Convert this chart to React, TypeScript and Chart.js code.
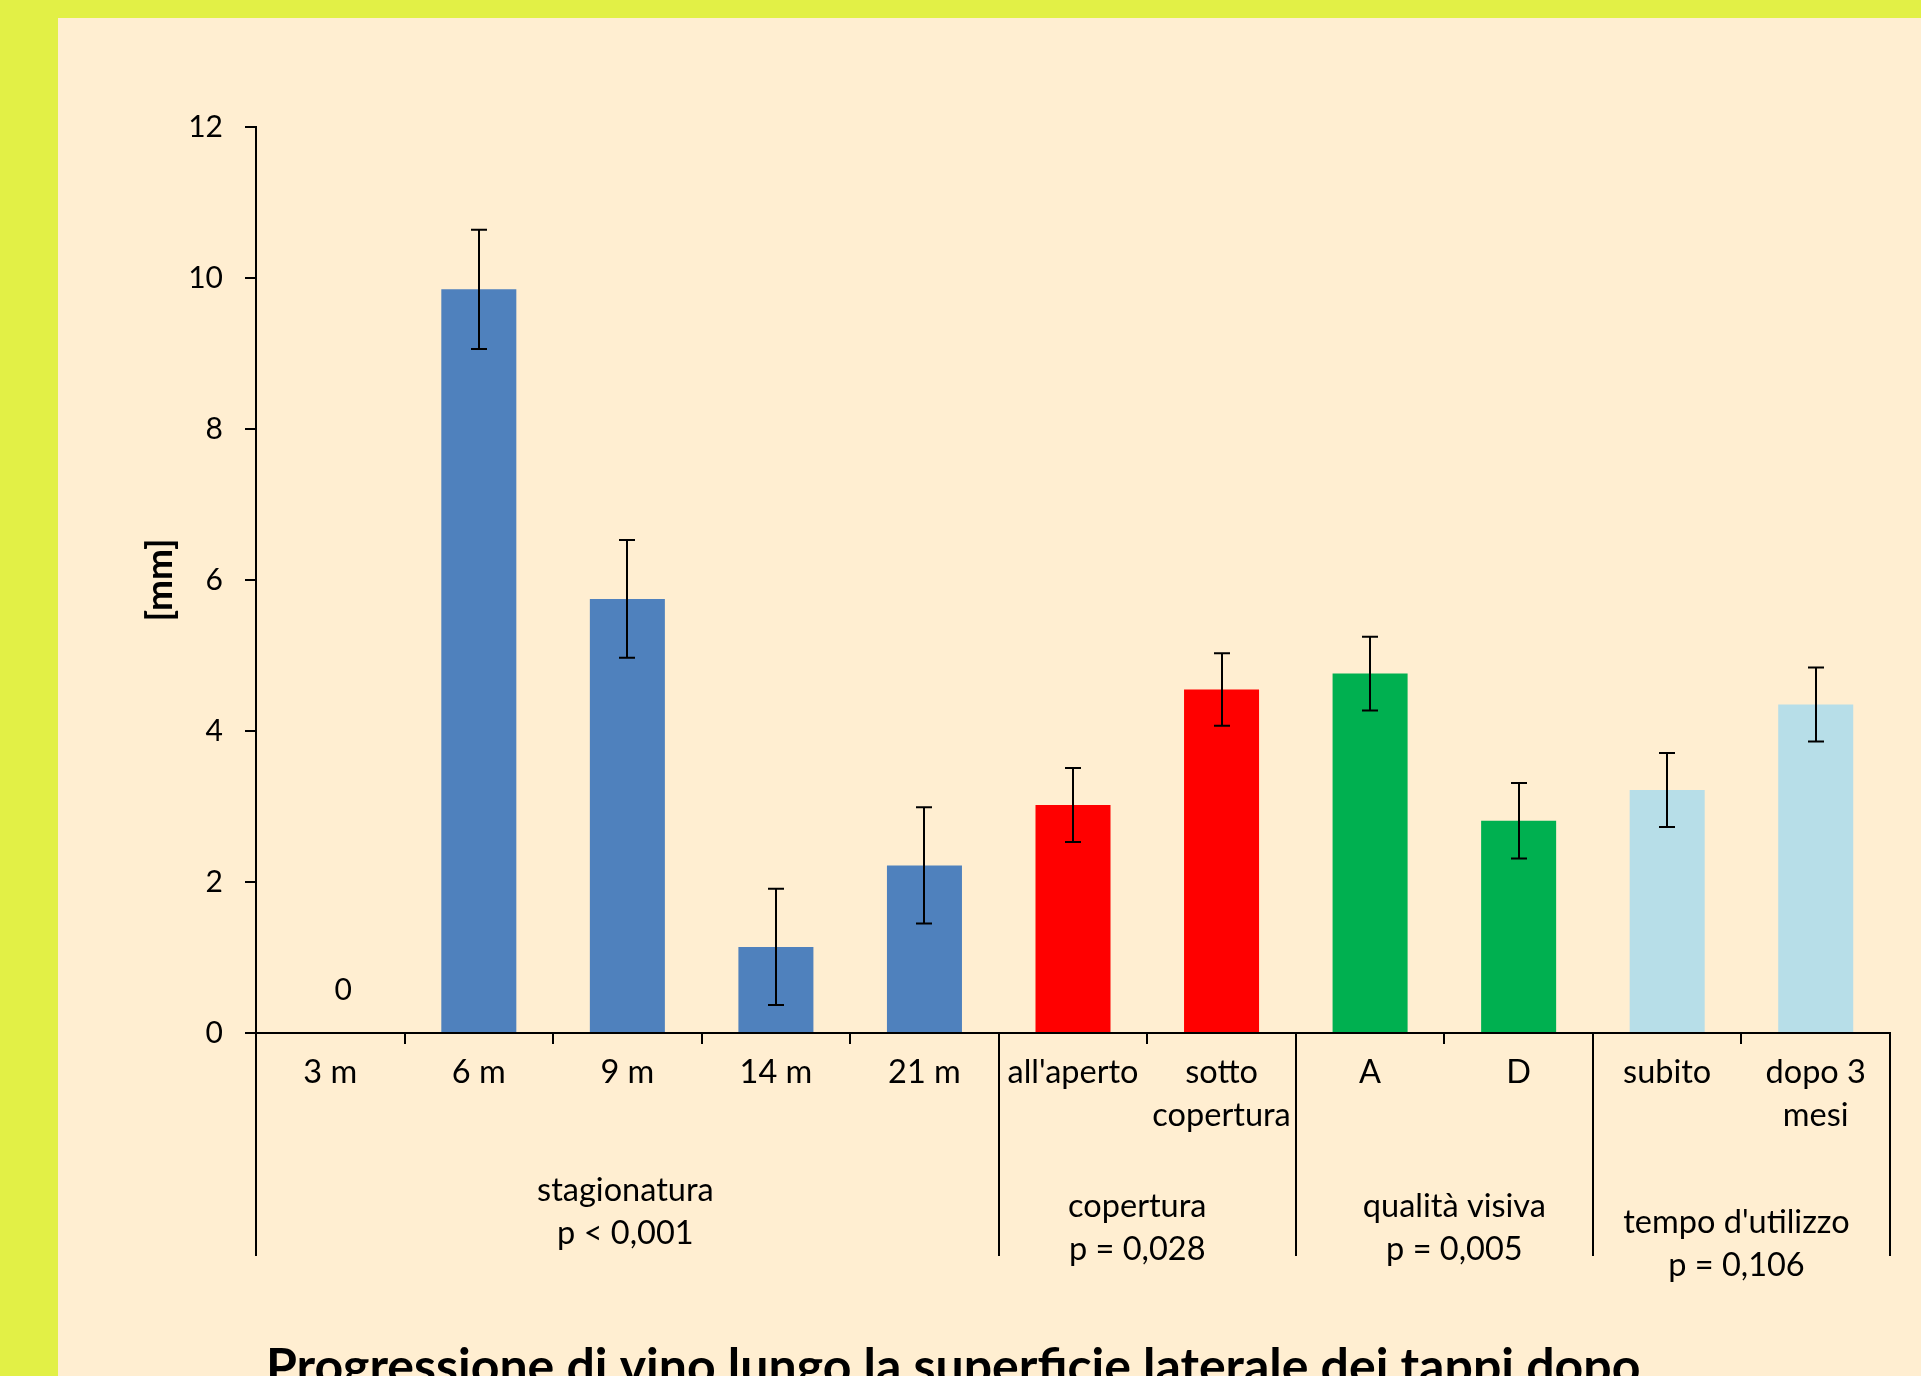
import { useEffect, useRef } from 'react';
import { Chart, registerables } from 'chart.js';

Chart.register(...registerables);

// ---- data ----
const categories: (string | string[])[] = [
  '3 m', '6 m', '9 m', '14 m', '21 m',
  "all'aperto", ['sotto', 'copertura'],
  'A', 'D',
  'subito', ['dopo 3', 'mesi'],
];
const values = [0, 9.85, 5.75, 1.14, 2.22, 3.02, 4.55, 4.76, 2.81, 3.22, 4.35];
const errors = [0, 0.79, 0.78, 0.77, 0.77, 0.49, 0.48, 0.49, 0.5, 0.49, 0.49];
const barColors = [
  '#4F81BD', '#4F81BD', '#4F81BD', '#4F81BD', '#4F81BD',
  '#FF0000', '#FF0000',
  '#00B050', '#00B050',
  '#B7DEE8', '#B7DEE8',
];
const yTicks = [0, 2, 4, 6, 8, 10, 12];
const groupNames = ['stagionatura', 'copertura', 'qualità visiva', "tempo d'utilizzo"];
const groupPValues = ['p < 0,001', 'p = 0,028', 'p = 0,005', 'p = 0,106'];
const groupSizes = [5, 2, 2, 2];
const yAxisTitle = '[mm]';
const chartTitle = 'Progressione di vino lungo la superficie laterale dei tappi dopo';

// ---- styles ----
const FONT = 'Lato, "Noto Sans", sans-serif';
const GROUP_LABEL_OFFSETS = [158, 174, 174, 190];
const GROUP_LABEL_SHIFT_X = [-2, -10, 10, -5];
const GROUP_LINE_GAP = 43;
const SEPARATOR_DEPTH = 223;

const overlayPlugin = {
  id: 'overlay',
  afterDraw(chart: any) {
    const { ctx } = chart;
    const xs = chart.scales.x;
    const ys = chart.scales.y;
    const meta = chart.getDatasetMeta(0);
    const n = categories.length;
    const catW = xs.width / n;
    const axisY = ys.getPixelForValue(0);

    ctx.save();
    // error bars
    ctx.strokeStyle = '#000';
    ctx.lineWidth = 2;
    meta.data.forEach((bar: any, i: number) => {
      const e = errors[i];
      if (!e) return;
      const x = Math.round(bar.x);
      const yTop = ys.getPixelForValue(values[i] + e);
      const yBot = ys.getPixelForValue(values[i] - e);
      ctx.beginPath();
      ctx.moveTo(x, yTop);
      ctx.lineTo(x, yBot);
      ctx.moveTo(x - 8, yTop);
      ctx.lineTo(x + 8, yTop);
      ctx.moveTo(x - 8, yBot);
      ctx.lineTo(x + 8, yBot);
      ctx.stroke();
    });

    // zero data label
    ctx.fillStyle = '#000';
    ctx.font = `30px ${FONT}`;
    ctx.textAlign = 'center';
    ctx.textBaseline = 'alphabetic';
    meta.data.forEach((bar: any, i: number) => {
      if (values[i] === 0) ctx.fillText('0', bar.x + 13, axisY - 33);
    });

    // group separators
    let idx = 0;
    const bounds = [0];
    groupSizes.forEach((s) => {
      idx += s;
      bounds.push(idx);
    });
    ctx.beginPath();
    bounds.forEach((b) => {
      const x = Math.round(xs.left + b * catW);
      ctx.moveTo(x, axisY);
      ctx.lineTo(x, axisY + SEPARATOR_DEPTH);
    });
    ctx.stroke();

    // group labels
    ctx.font = `32.5px ${FONT}`;
    ctx.textBaseline = 'middle';
    groupSizes.forEach((s, g) => {
      const cx = xs.left + ((bounds[g] + bounds[g + 1]) / 2) * catW + GROUP_LABEL_SHIFT_X[g];
      const y0 = axisY + GROUP_LABEL_OFFSETS[g];
      ctx.fillText(groupNames[g], cx, y0);
      ctx.fillText(groupPValues[g], cx, y0 + GROUP_LINE_GAP);
    });

    // y axis title
    ctx.save();
    ctx.translate(160, (ys.top + ys.bottom) / 2);
    ctx.rotate(-Math.PI / 2);
    ctx.font = `bold 37px ${FONT}`;
    ctx.textAlign = 'center';
    ctx.textBaseline = 'middle';
    ctx.fillText(yAxisTitle, 0, 0);
    ctx.restore();

    // chart title (cut by the bottom edge)
    ctx.font = `bold 50px ${FONT}`;
    ctx.textAlign = 'left';
    ctx.textBaseline = 'alphabetic';
    ctx.fillText(chartTitle, 266, 1384);

    ctx.restore();
  },
};

export default function App() {
  const canvasRef = useRef<HTMLCanvasElement | null>(null);

  useEffect(() => {
    const canvas = canvasRef.current;
    if (!canvas) return;
    const chart = new Chart(canvas, {
      type: 'bar',
      data: {
        labels: categories as any,
        datasets: [
          {
            data: values,
            backgroundColor: barColors,
            borderWidth: 0,
            categoryPercentage: 1,
            barPercentage: 0.505,
          },
        ],
      },
      options: {
        animation: false,
        responsive: false,
        maintainAspectRatio: false,
        devicePixelRatio: 1,
        layout: { padding: { left: 0, top: 127, right: 31, bottom: 0 } },
        plugins: {
          legend: { display: false },
          tooltip: { enabled: false },
          title: { display: false },
        },
        scales: {
          x: {
            type: 'category',
            offset: true,
            grid: {
              offset: true,
              drawOnChartArea: false,
              drawTicks: true,
              tickLength: 11,
              color: '#000',
              lineWidth: 2,
            },
            border: { display: true, color: '#000', width: 2 },
            ticks: {
              color: '#000',
              font: { family: FONT, size: 32.5, lineHeight: 1.32 },
              padding: 7,
              maxRotation: 0,
              minRotation: 0,
              autoSkip: false,
            },
            afterFit: (s: any) => {
              s.height = 343;
            },
          },
          y: {
            min: 0,
            max: 12,
            afterBuildTicks: (s: any) => {
              s.ticks = yTicks.map((v) => ({ value: v }));
            },
            ticks: {
              color: '#000',
              font: { family: FONT, size: 30 },
              padding: 22,
            },
            grid: {
              drawOnChartArea: false,
              drawTicks: true,
              tickLength: 11,
              color: '#000',
              lineWidth: 2,
            },
            border: { display: true, color: '#000', width: 2 },
            afterFit: (s: any) => {
              s.width = 256;
            },
          },
        },
      },
      plugins: [overlayPlugin],
    });
    return () => chart.destroy();
  }, []);

  return (
    <div
      style={{
        position: 'absolute',
        left: 0,
        top: 0,
        width: 1921,
        height: 1376,
        overflow: 'hidden',
        background: '#E2F046',
      }}
    >
      <div
        style={{
          position: 'absolute',
          left: 58,
          top: 18,
          right: 0,
          bottom: 0,
          background: '#FFEED1',
        }}
      />
      <canvas
        ref={canvasRef}
        width={1921}
        height={1376}
        style={{ position: 'absolute', left: 0, top: 0, width: 1921, height: 1376 }}
      />
    </div>
  );
}
